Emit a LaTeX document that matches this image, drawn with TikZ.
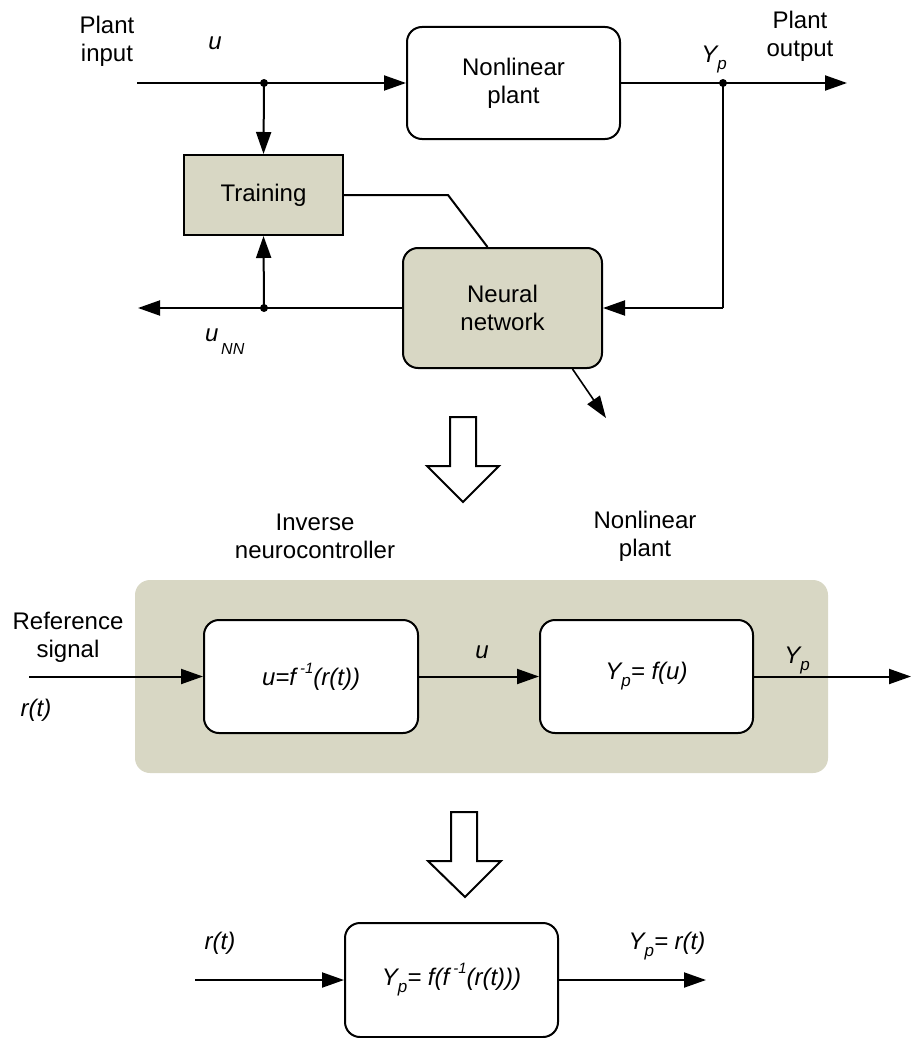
\documentclass[tikz,border=0pt]{standalone}
\usepackage{fontspec}
\setmainfont{Liberation Sans}
\usetikzlibrary{arrows.meta}
\definecolor{panel}{RGB}{216,215,196}
\newcommand{\sub}[1]{\raisebox{-7pt}{\fontsize{17}{17}\selectfont #1}}
\newcommand{\supx}[1]{\raisebox{12pt}{\fontsize{15}{15}\selectfont #1}}
\begin{document}
\begin{tikzpicture}[x=1pt,y=-1pt,
  every node/.style={font=\fontsize{24}{28}\selectfont},
  blk/.style={draw,line width=2pt,rounded corners=15pt,fill=white,align=center,inner sep=0pt},
  grey/.style={fill=panel},
  wire/.style={line width=2pt},
  arr/.style={wire,-{Triangle[length=22pt,width=15pt]}},
  dot/.style={circle,fill=black,inner sep=0pt,minimum size=8pt},
  lbl/.style={align=center,inner sep=0pt},
  hollow/.style={draw,line width=2pt,fill=white,line join=miter}]
\useasboundingbox (0,0) rectangle (911,1038);

% ---------- top section ----------
\node[blk,minimum width=213pt,minimum height=112pt] (plant) at (513.5,83) {Nonlinear\\plant};
\node[blk,grey,rounded corners=0pt,minimum width=159pt,minimum height=80pt] (train) at (263.5,195) {Training};
\node[blk,grey,minimum width=199pt,minimum height=120pt] (nn) at (502.5,308) {Neural\\network};

\coordinate (in) at (137,83);
\node[dot] (j1) at (264,83) {};
\node[dot] (j2) at (723,83) {};
\node[dot] (j3) at (264,308) {};
\coordinate (out) at (847,83);
\coordinate (fb) at (723,308);
\coordinate (nnout) at (138,308);
\coordinate (tbend) at (448,195);
\coordinate (diag) at (606,418);

\draw[wire] (in) -- (j1.center);
\draw[arr] (j1.center) -- (plant.west);
\draw[wire] (plant.east) -- (j2.center);
\draw[arr] (j2.center) -- (out);
\draw[arr] (j1.center) -- (train.north);
\draw[wire] (j2.center) -- (fb);
\draw[arr] (fb) -- (nn.east);
\draw[wire] (nn.west) -- (j3.center);
\draw[arr] (j3.center) -- (nnout);
\draw[arr] (j3.center) -- (train.south);
\draw[wire] (train.east) -- (tbend) -- ([xshift=-15pt]nn.north);
\draw[arr,line width=1.6pt] ([xshift=70pt]nn.south) -- (diag);

\node[lbl] (pin) at (107,41) {Plant\\input};
\node[lbl] (pout) at (800,36) {Plant\\output};
\node[lbl] (ulab) at (215,43) {\textit{u}};
\node[lbl] (yplab) at (714,60) {\textit{Y\sub{p}}};
\node[lbl,anchor=west] (unn) at (205,342) {\textit{u\raisebox{-13pt}{\fontsize{16}{16}\selectfont\,NN}}};

% hollow arrow 1
\draw[hollow] (450,417) -- (476,417) -- (476,466) -- (499,466) -- (463,502) -- (427,466) -- (450,466) -- cycle;

% ---------- middle section ----------
\node[lbl] (invlab) at (315,536) {Inverse\\neurocontroller};
\node[lbl] (nplab) at (645,536) {Nonlinear\\plant};
\node[fill=panel,rounded corners=15pt,minimum width=693pt,minimum height=193pt,inner sep=0pt] (panelbox) at (481.5,676.5) {};
\node[blk,minimum width=214pt,minimum height=113pt] (inv) at (311,676.5) {\textit{u=f\,\supx{-1}(r(t))}};
\node[blk,minimum width=213pt,minimum height=113pt] (np) at (646.5,676.5) {\textit{Y\sub{p}= f(u)}};
\coordinate (refin) at (29,676.5);
\coordinate (refout) at (911,676.5);
\draw[arr] (refin) -- (inv.west);
\draw[arr] (inv.east) -- (np.west);
\draw[arr] (np.east) -- (refout);
\node[lbl] (reflab) at (68,637) {Reference\\signal};
\node[lbl] (rtlab) at (36,710) {\textit{r(t)}};
\node[lbl] (u2lab) at (482,652) {\textit{u}};
\node[lbl] (yp2lab) at (797,660) {\textit{Y\sub{p}}};

% hollow arrow 2
\draw[hollow] (451,812) -- (477,812) -- (477,861) -- (501,861) -- (465,897) -- (428,861) -- (451,861) -- cycle;

% ---------- bottom section ----------
\node[blk,minimum width=213pt,minimum height=114pt] (res) at (451.5,980) {\textit{Y\sub{p}= f(f\,\supx{-1}(r(t)))}};
\coordinate (rin) at (195,980);
\coordinate (rout) at (706,980);
\draw[arr] (rin) -- (res.west);
\draw[arr] (res.east) -- (rout);
\node[lbl] (rt2lab) at (220,943) {\textit{r(t)}};
\node[lbl] (yprt) at (667,946) {\textit{Y\sub{p}= r(t)}};
\end{tikzpicture}
\end{document}
